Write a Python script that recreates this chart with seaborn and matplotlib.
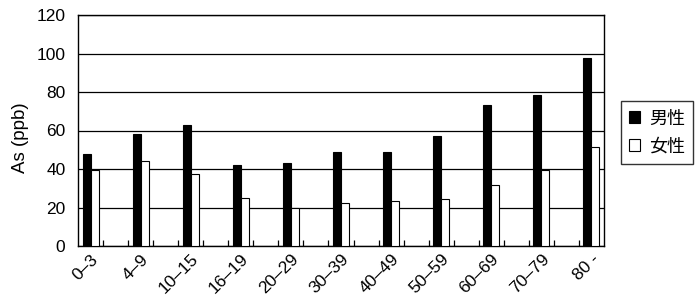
import matplotlib
matplotlib.use("Agg")
import matplotlib.pyplot as plt
import seaborn as sns
import pandas as pd
import numpy as np
from matplotlib.patches import Patch

categories = ["0–3", "4–9", "10–15", "16–19", "20–29", "30–39",
              "40–49", "50–59", "60–69", "70–79", "80 -"]
male = [48, 58, 63, 42, 43, 49, 49, 57, 73.5, 78.5, 97.5]
female = [39.5, 44, 37.5, 25, 19.5, 22.5, 23.5, 24.5, 31.5, 39.5, 51.5]
series_names = ["男性", "女性"]
yticks = [0, 20, 40, 60, 80, 100, 120]

df = pd.DataFrame({
    "age": categories * 2,
    "value": male + female,
    "sex": [series_names[0]] * len(categories) + [series_names[1]] * len(categories),
})

sns.set_theme(style="white")
plt.rcParams["font.family"] = ["Liberation Sans", "Noto Sans CJK JP", "DejaVu Sans"]
plt.rcParams["text.color"] = "black"
plt.rcParams["axes.labelcolor"] = "black"
plt.rcParams["xtick.color"] = "black"
plt.rcParams["ytick.color"] = "black"

fig = plt.figure(figsize=(7.0, 3.01), dpi=100)
ax = fig.add_axes([78/700, 1-246/301, (604-78)/700, (246-15)/301])

sns.barplot(data=df, x="age", y="value", hue="sex", order=categories,
            hue_order=series_names, palette=["black", "white"],
            width=0.32, edgecolor="black", linewidth=0.8, legend=False,
            ax=ax, zorder=3, saturation=1)

ax.set_xlim(-0.25, len(categories) - 0.75)
ax.set_ylim(0, 120)
ax.set_yticks(yticks)
ax.set_yticklabels([str(v) for v in yticks], fontsize=12.5)
ax.yaxis.grid(True, color="black", linewidth=0.9)
ax.set_axisbelow(True)
for s in ax.spines.values():
    s.set_color("black")
    s.set_linewidth(1.0)
    s.set_visible(True)

ax.tick_params(axis="y", length=0, pad=9, labelcolor="black")
ax.tick_params(axis="x", which="major", length=0, pad=4, labelcolor="black")
minor = []
for i in range(len(categories) - 1):
    minor += [i + 0.25, i + 0.75]
ax.set_xticks(minor, minor=True)
ax.tick_params(axis="x", which="minor", bottom=True, direction="in",
               length=4, width=0.9, color="black")
plt.setp(ax.get_xticklabels(), rotation=45, ha="right", rotation_mode="anchor",
         fontsize=12.5)

ax.set_xlabel("")
ax.set_ylabel("As (ppb)", fontsize=13.5, color="black")
ax.yaxis.set_label_coords(-0.093, 0.47)

handles = [Patch(facecolor="black", edgecolor="black", linewidth=0.8),
           Patch(facecolor="white", edgecolor="black", linewidth=0.8)]
leg = fig.legend(handles, series_names, loc="center left",
                 bbox_to_anchor=(621/700, 1 - 132.5/301),
                 borderaxespad=0,
                 frameon=True, fancybox=False, edgecolor="black",
                 handlelength=0.6, handleheight=0.6, handletextpad=0.5,
                 borderpad=0.45, labelspacing=0.55,
                 prop={"family": ["Noto Sans CJK JP", "DejaVu Sans"], "size": 13})
leg.get_frame().set_linewidth(1.0)
for t in leg.get_texts():
    t.set_color("black")

fig.savefig("out.png", dpi=100)
